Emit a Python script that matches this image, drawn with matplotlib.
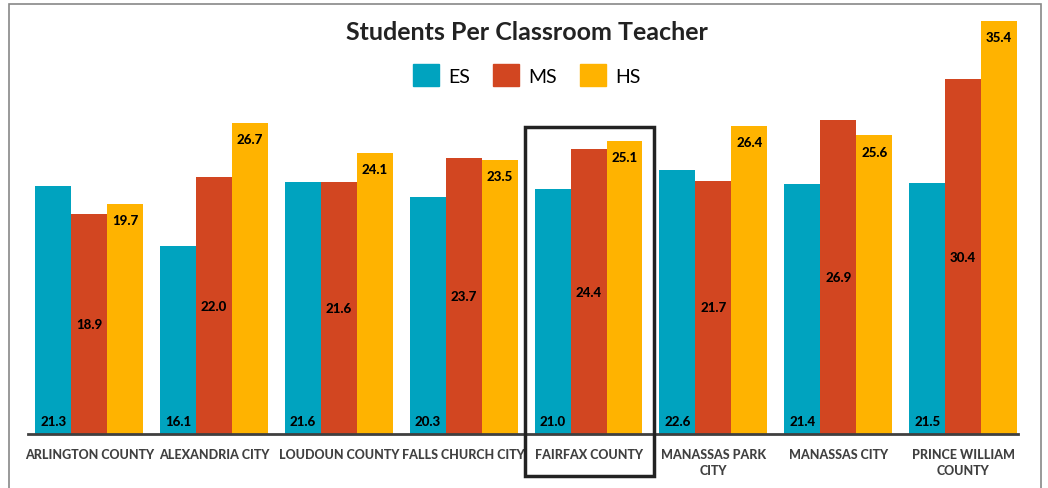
import matplotlib.pyplot as plt
import numpy as np
from matplotlib.patches import Rectangle, Patch

counties = ['ARLINGTON COUNTY', 'ALEXANDRIA CITY', 'LOUDOUN COUNTY', 'FALLS CHURCH CITY',
            'FAIRFAX COUNTY', 'MANASSAS PARK\nCITY', 'MANASSAS CITY', 'PRINCE WILLIAM\nCOUNTY']
es = [21.3, 16.1, 21.6, 20.3, 21.0, 22.6, 21.4, 21.5]
ms = [18.9, 22.0, 21.6, 23.7, 24.4, 21.7, 26.9, 30.4]
hs = [19.7, 26.7, 24.1, 23.5, 25.1, 26.4, 25.6, 35.4]

c_es, c_ms, c_hs = '#00A3BF', '#D24621', '#FFB300'
plt.rcParams['font.family'] = ['Lato', 'DejaVu Sans']

fig = plt.figure(figsize=(10.48, 4.89), dpi=100)
ax = fig.add_axes([28/1048, 54/489, 990/1048, 420/489])

x = np.arange(len(counties))
w = 0.288
ax.bar(x - w, es, w, color=c_es)
ax.bar(x, ms, w, color=c_ms)
ax.bar(x + w, hs, w, color=c_hs)

for i in x:
    ax.text(i - w, 1.1, f'{es[i]:.1f}', ha='center', va='center', fontsize=9.5, fontweight='black')
    ax.text(i, ms[i] / 2, f'{ms[i]:.1f}', ha='center', va='center', fontsize=9.5, fontweight='black')
    ax.text(i + w, hs[i] - 1.4, f'{hs[i]:.1f}', ha='center', va='center', fontsize=9.5, fontweight='black')

ax.set_xlim(-0.49, 7.44)
ax.set_ylim(0, 36)
ax.set_yticks([])
ax.set_xticks(x)
ax.set_xticklabels(counties, fontsize=9, fontweight='black', color='#404040', linespacing=1.4)
ax.tick_params(axis='x', length=0, pad=10)
for s in ['top', 'right', 'left']:
    ax.spines[s].set_visible(False)
ax.spines['bottom'].set_color('#404040')
ax.spines['bottom'].set_linewidth(2)

fig.text(527/1048, 1 - 33/489, 'Students Per Classroom Teacher', ha='center', va='center',
         fontsize=18, fontweight='bold', color='#222222')
handles = [Patch(color=c_es, label='ES'), Patch(color=c_ms, label='MS'), Patch(color=c_hs, label='HS')]
fig.legend(handles=handles, loc='center', bbox_to_anchor=(527/1048, 1 - 76/489), ncol=3,
           frameon=False, fontsize=14, handlelength=1.3, handleheight=1.3, handletextpad=0.5,
           columnspacing=1.2)

# highlight box around Fairfax
fig.patches.append(Rectangle((525/1048, 1 - 477/489), 129/1048, 349/489, transform=fig.transFigure,
                             fill=False, edgecolor='#222222', linewidth=2.5))
# outer frame
fig.patches.append(Rectangle((9/1048, -0.05), 1032/1048, 1.05 - 5/489, transform=fig.transFigure,
                             fill=False, edgecolor='#888888', linewidth=1.2))

fig.savefig('out.png', dpi=100)
